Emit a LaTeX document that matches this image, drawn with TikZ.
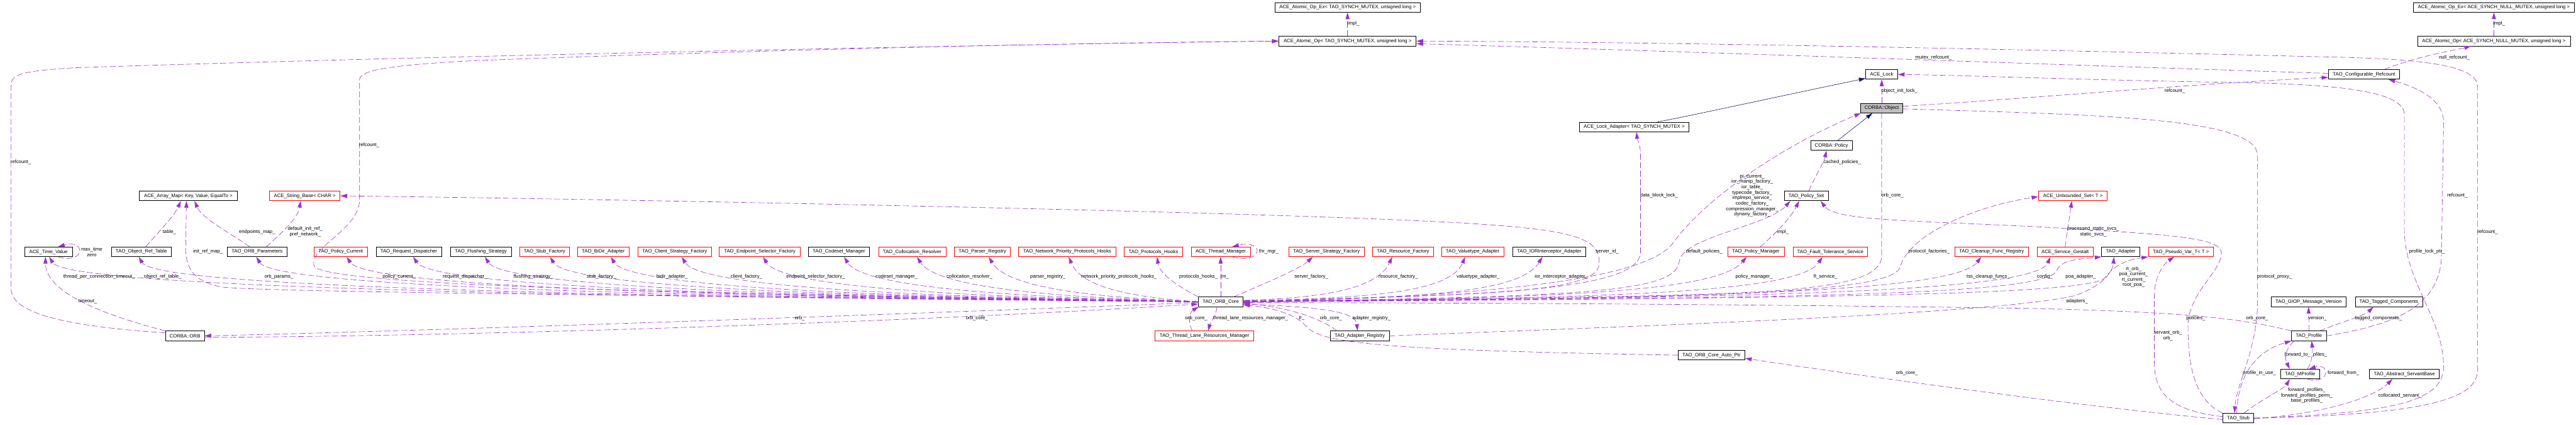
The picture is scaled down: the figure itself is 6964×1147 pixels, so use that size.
\documentclass[tikz,border=0pt]{standalone}
\usepackage{fontspec}
\setmainfont{Liberation Sans}
\usetikzlibrary{arrows.meta,calc}
\definecolor{depc}{HTML}{9A32CD}
\definecolor{inhc}{HTML}{191970}
\definecolor{gry}{HTML}{BFBFBF}
\newcommand{\dgfont}{\fontsize{18.8pt}{20.9pt}\selectfont}
\begin{document}
\begin{tikzpicture}[x=0.5mm,y=-0.5mm,
  box/.style={draw=black,fill=white,line width=1.8pt,minimum height=13mm,inner sep=0pt,font=\dgfont,anchor=center},
  rbox/.style={box,draw=red},
  bw/.style={minimum width=#1*0.5mm},
  dep/.style={draw=depc,line width=1.5pt,dash pattern=on 8mm off 3.5mm,-{Triangle[length=9mm,width=5.5mm]}},
  inh/.style={draw=inhc,line width=1.5pt,-{Triangle[length=9mm,width=5.5mm]}},
  lab/.style={font=\dgfont,inner sep=0pt,align=center}]
\useasboundingbox[fill=white] (0,0) rectangle (6964,1147);

% ---------------- nodes ----------------
\node[box,bw=393] (opex1) at (3643,20) {ACE\_Atomic\_Op\_Ex< TAO\_SYNCH\_MUTEX, unsigned long >};
\node[box,bw=371] (op1) at (3643,111) {ACE\_Atomic\_Op< TAO\_SYNCH\_MUTEX, unsigned long >};
\node[box,bw=435] (opex2) at (6742,20) {ACE\_Atomic\_Op\_Ex< ACE\_SYNCH\_NULL\_MUTEX, unsigned long >};
\node[box,bw=413] (op2) at (6742,111) {ACE\_Atomic\_Op< ACE\_SYNCH\_NULL\_MUTEX, unsigned long >};
\node[box,bw=86] (lock) at (5087,201) {ACE\_Lock};
\node[box,bw=192] (cref) at (6391,201) {TAO\_Configurable\_Refcount};
\node[box,bw=115,fill=gry] (obj) at (5087,292) {CORBA::Object};
\node[box,bw=295] (lockad) at (4418,343) {ACE\_Lock\_Adapter< TAO\_SYNCH\_MUTEX >};
\node[box,bw=112] (policy) at (4951,393) {CORBA::Policy};
\node[box,bw=119] (pset) at (4883,529) {TAO\_Policy\_Set};
\node[rbox,bw=186] (uset) at (5604,529) {ACE\_Unbounded\_Set< T >};
\node[box,bw=264] (amap) at (509,529) {ACE\_Array\_Map< Key, Value, EqualTo >};
\node[rbox,bw=191] (sbase) at (824,529) {ACE\_String\_Base< CHAR >};

\node[box,bw=129] (tv) at (131,680) {ACE\_Time\_Value};
\node[box,bw=162] (ort) at (382,680) {TAO\_Object\_Ref\_Table};
\node[box,bw=161] (op) at (695,680) {TAO\_ORB\_Parameters};
\node[rbox,bw=144] (pcur) at (921,680) {TAO\_Policy\_Current};
\node[box,bw=177] (rdisp) at (1105,680) {TAO\_Request\_Dispatcher};
\node[box,bw=165] (flush) at (1300,680) {TAO\_Flushing\_Strategy};
\node[rbox,bw=135] (stubf) at (1472,680) {TAO\_Stub\_Factory};
\node[rbox,bw=139] (bidir) at (1631,680) {TAO\_BiDir\_Adapter};
\node[rbox,bw=199] (csf) at (1824,680) {TAO\_Client\_Strategy\_Factory};
\node[rbox,bw=219] (esf) at (2054,680) {TAO\_Endpoint\_Selector\_Factory};
\node[box,bw=166] (csm) at (2268,680) {TAO\_Codeset\_Manager};
\node[rbox,bw=182] (colr) at (2466,680) {TAO\_Collocation\_Resolver};
\node[rbox,bw=151] (preg) at (2656,680) {TAO\_Parser\_Registry};
\node[rbox,bw=263] (npph) at (2885,680) {TAO\_Network\_Priority\_Protocols\_Hooks};
\node[rbox,bw=157] (ph) at (3118,680) {TAO\_Protocols\_Hooks};
\node[rbox,bw=160] (thrm) at (3300,680) {ACE\_Thread\_Manager};
\node[rbox,bw=204] (ssf) at (3586,680) {TAO\_Server\_Strategy\_Factory};
\node[rbox,bw=165] (rf) at (3793,680) {TAO\_Resource\_Factory};
\node[rbox,bw=168] (vta) at (3981,680) {TAO\_Valuetype\_Adapter};
\node[box,bw=197] (iora) at (4188,680) {TAO\_IORInterceptor\_Adapter};
\node[rbox,bw=153] (pman) at (4747,680) {TAO\_Policy\_Manager};
\node[rbox,bw=202] (fts) at (4948,680) {TAO\_Fault\_Tolerance\_Service};
\node[rbox,bw=198] (cfr) at (5384,680) {TAO\_Cleanup\_Func\_Registry};
\node[rbox,bw=152] (sg) at (5583,680) {ACE\_Service\_Gestalt};
\node[box,bw=103] (adp) at (5733,680) {TAO\_Adapter};
\node[rbox,bw=176] (pv) at (5896,680) {TAO\_Pseudo\_Var\_T< T >};

\node[box,bw=121] (core) at (3300,815) {TAO\_ORB\_Core};
\node[box,bw=203] (giop) at (6241,815) {TAO\_GIOP\_Message\_Version};
\node[box,bw=182] (tagc) at (6458,815) {TAO\_Tagged\_Components};

\node[box,bw=105] (orb) at (500,907) {CORBA::ORB};
\node[rbox,bw=266] (tlrm) at (3256,907) {TAO\_Thread\_Lane\_Resources\_Manager};
\node[box,bw=159] (areg) at (3676,907) {TAO\_Adapter\_Registry};
\node[box,bw=94] (prof) at (6242,907) {TAO\_Profile};
\node[box,bw=180] (autop) at (4627,959) {TAO\_ORB\_Core\_Auto\_Ptr};
\node[box,bw=106] (mprof) at (6218,1010) {TAO\_MProfile};
\node[box,bw=189] (asb) at (6500,1010) {TAO\_Abstract\_ServantBase};
\node[box,bw=84] (stub) at (6051,1129) {TAO\_Stub};

% ---------------- top area edges ----------------
\draw[dep] (op1.north) -- (opex1.south);
\draw[dep] (op2.north) -- (opex2.south);
\draw[inh] ([xshift=31mm]lockad.north) .. controls (4560,315) and (4800,262) .. ([yshift=1.5mm]lock.south west);
\draw[inh] ([xshift=8.5mm]policy.north) -- ([xshift=-12.5mm]obj.south);
\draw[dep] (obj.north) -- (lock.south);
\draw[dep] ([xshift=3.5mm]pset.north) .. controls (4910,470) and (4930,440) .. ([xshift=-6.5mm]policy.south);
\draw[dep] ([yshift=1.5mm]cref.west) .. controls (5800,183) and (4600,140) .. ([yshift=-3.5mm]op1.east);
\draw[dep] (stub.east) .. controls (6500,1120) and (6698,1090) .. (6698,1000) -- (6698,235) .. controls (6698,185) and (6600,160) .. (6300,154) .. controls (5500,134) and (4500,113) .. (op1.east);
\draw[dep] ([xshift=27.5mm]cref.north) .. controls (6540,150) and (6640,135) .. ([xshift=-31mm]op2.south);
\draw[dep] ([yshift=2.5mm]obj.east) .. controls (5500,265) and (5900,228) .. ([yshift=-4mm]cref.west);
\draw[dep] ([yshift=-1mm]obj.east) .. controls (5700,310) and (6103,320) .. (6103,420) -- (6103,820) .. controls (6100,950) and (6045,1040) .. ([xshift=-5mm]stub.north);
\draw[dep] (obj.south) -- (5087,690) .. controls (5087,770) and (4900,790) .. (4400,800) .. controls (3800,810) and (3500,812) .. ([yshift=-0.5mm]core.east);
\draw[dep] (stub.east) .. controls (6450,1115) and (6606,1090) .. (6606,990) .. controls (6606,860) and (6500,760) .. (6500,620) -- (6500,310) .. controls (6500,250) and (6350,226) .. (6000,222) .. controls (5600,215) and (5300,203) .. (lock.east);
\draw[dep] (prof.east) .. controls (6450,880) and (6590,840) .. (6600,700) -- (6606,330) .. controls (6606,262) and (6520,232) .. ([xshift=33mm]cref.south);

% ---------------- TAO_Stub / TAO_Profile edges ----------------
\draw[dep] (stub.north west) .. controls (5930,1080) and (5915,980) .. (5915,880) .. controls (5915,790) and (6010,730) .. (6005,680) .. controls (6000,640) and (5850,632) .. (5500,612) .. controls (5150,595) and (4960,595) .. ([xshift=19.5mm]pset.south);
\draw[dep] ([yshift=2mm]stub.west) .. controls (5880,1110) and (5824,1070) .. (5824,980) -- (5824,800) .. controls (5824,745) and (5850,712) .. ([xshift=-9mm]pv.south);
\draw[dep] ([yshift=-2mm]stub.west) .. controls (5600,1095) and (5000,1010) .. ([yshift=2.5mm]autop.south east);
\draw[dep] ([xshift=-2mm]stub.north) .. controls (6050,1000) and (6110,945) .. (prof.south west);
\draw[dep] ([xshift=8mm]stub.north) .. controls (6110,1080) and (6175,1050) .. ([xshift=-14mm]mprof.south);
\draw[dep] ([yshift=-1mm]stub.east) .. controls (6300,1115) and (6420,1070) .. ([xshift=-16mm]asb.south);
\draw[dep] ([xshift=-20mm]prof.south) .. controls (6170,950) and (6180,975) .. ([xshift=-14mm]mprof.north);
\draw[dep] ([xshift=10mm]mprof.north) .. controls (6252,975) and (6252,945) .. ([xshift=3.5mm]prof.south);
\draw[dep] ([xshift=10mm]mprof.south) .. controls (6300,1040) and (6300,978) .. ([xshift=12mm]mprof.north);
\draw[dep] (prof.north) -- (giop.south);
\draw[dep] ([xshift=14.5mm]prof.north) .. controls (6330,870) and (6395,850) .. ([xshift=-21mm]tagc.south);
\draw[dep] (prof.north west) .. controls (6050,858) and (5900,843) .. (5500,833) .. controls (4500,818) and (3700,818) .. ([yshift=-1mm]core.east);

% ---------------- TAO_ORB_Core right side ----------------
\draw[dep] ([yshift=-3mm]core.east) .. controls (3600,830) and (3665,845) .. ([xshift=-3mm]areg.north);
\draw[dep] ([xshift=-31mm]areg.north) .. controls (3580,865) and (3490,830) .. ([yshift=-2mm]core.east);
\draw[dep] (autop.west) .. controls (3700,945) and (3570,925) .. (3530,880) .. controls (3500,845) and (3430,830) .. ([yshift=-4mm]core.east);
\draw[dep] ([xshift=-5mm]core.south) .. controls (3288,850) and (3272,870) .. ([xshift=5mm]tlrm.north);
\draw[dep] ([xshift=-16.5mm]tlrm.north) .. controls (3208,862) and (3220,840) .. ([xshift=1mm]core.south west);
\draw[dep] (core.north) -- (thrm.south);
\draw[dep] ([xshift=15.5mm]thrm.south) .. controls (3418,715) and (3418,645) .. ([xshift=15.5mm]thrm.north);
\draw[dep] (core.north west) .. controls (3180,770) and (3135,740) .. ([xshift=5mm]ph.south);
\draw[dep] ([xshift=17.5mm]core.north) .. controls (3420,765) and (3515,725) .. ([xshift=-18.5mm]ssf.south);
\draw[dep] ([yshift=2mm]core.east) .. controls (3560,805) and (3720,785) .. ([xshift=-14.5mm]rf.south);
\draw[dep] ([yshift=1.5mm]core.east) .. controls (3700,805) and (3920,790) .. ([xshift=-10mm]vta.south);
\draw[dep] ([yshift=1mm]core.east) .. controls (3850,805) and (4110,790) .. ([xshift=-9mm]iora.south);
\draw[dep] ([yshift=0.5mm]core.east) .. controls (3900,795) and (4300,800) .. (4322,720) .. controls (4335,640) and (4250,620) .. (3950,602) .. controls (3400,570) and (1500,535) .. (sbase.east);
\draw[dep] (core.east) .. controls (4000,795) and (4435,790) .. (4435,680) -- (4435,420) .. controls (4435,390) and (4426,375) .. ([xshift=3mm]lockad.south);
\draw[dep] (core.east) .. controls (4100,800) and (4450,745) .. (4520,660) .. controls (4620,520) and (4850,380) .. ([xshift=1mm]obj.south west);
\draw[dep] (core.east) .. controls (4300,800) and (4530,790) .. (4540,705) .. controls (4550,640) and (4780,610) .. ([xshift=-21.5mm]pset.south);
\draw[dep] (core.east) .. controls (4200,805) and (4640,790) .. ([xshift=-12.5mm]pman.south);
\draw[dep] ([xshift=6mm]pman.north) .. controls (4800,630) and (4840,590) .. ([xshift=-9.5mm]pset.south);
\draw[dep] (core.east) .. controls (4300,805) and (4860,795) .. ([xshift=-10.5mm]fts.south);
\draw[dep] (core.east) .. controls (4500,805) and (5120,800) .. (5137,720) .. controls (5160,640) and (5320,560) .. ([yshift=-1mm]uset.west);
\draw[dep] (core.east) .. controls (4500,805) and (5280,795) .. ([xshift=-14mm]cfr.south);
\draw[dep] (core.east) .. controls (4600,805) and (5500,795) .. ([xshift=-20mm]sg.south);
\draw[dep] (core.east) .. controls (4800,805) and (5540,800) .. (5560,730) .. controls (5575,700) and (5620,700) .. (adp.south west);
\draw[dep] (core.east) .. controls (4800,805) and (5650,800) .. (5690,750) .. controls (5720,710) and (5760,700) .. (pv.south west);
\draw[dep] (sg.north) -- ([xshift=-1.5mm]uset.south);
\draw[dep] (areg.east) .. controls (4300,885) and (5400,850) .. (5610,798) .. controls (5690,770) and (5712,730) .. ([xshift=-9mm]adp.south);

% ---------------- TAO_ORB_Core left side ----------------
\draw[dep] (core.west) .. controls (2152,805) and (190,790) .. ([xshift=1mm]tv.south);
\draw[dep] (core.west) .. controls (2237,805) and (430,790) .. ([xshift=-3.5mm]ort.south);
\draw[dep] (core.west) .. controls (2349,805) and (750,790) .. ([xshift=-1mm]op.south);
\draw[dep] (core.west) .. controls (2434,805) and (1000,790) .. ([xshift=8mm]pcur.south);
\draw[dep] (core.west) .. controls (2497,805) and (1180,790) .. ([xshift=6mm]rdisp.south);
\draw[dep] (core.west) .. controls (2565,805) and (1370,790) .. ([xshift=5.5mm]flush.south);
\draw[dep] (core.west) .. controls (2626,805) and (1545,790) .. ([xshift=7.5mm]stubf.south);
\draw[dep] (core.west) .. controls (2684,805) and (1710,790) .. ([xshift=10mm]bidir.south);
\draw[dep] (core.west) .. controls (2751,805) and (1900,790) .. ([xshift=9.5mm]csf.south);
\draw[dep] (core.west) .. controls (2828,805) and (2120,790) .. ([xshift=4.5mm]esf.south);
\draw[dep] (core.west) .. controls (2905,805) and (2340,790) .. ([xshift=7mm]csm.south);
\draw[dep] (core.west) .. controls (2974,805) and (2540,790) .. ([xshift=6.5mm]colr.south);
\draw[dep] (core.west) .. controls (3041,805) and (2730,790) .. ([xshift=8.5mm]preg.south);
\draw[dep] (core.west) .. controls (3117,805) and (2930,790) .. ([xshift=2mm]npph.south);
\draw[dep] (core.west) .. controls (2000,800) and (720,790) .. (600,775) .. controls (520,760) and (502,720) .. (502,670) -- ([xshift=-2.5mm]amap.south);
\draw[dep] (core.west) .. controls (2000,795) and (900,775) .. (850,720) .. controls (830,670) and (972,620) .. (972,540) -- (972,215) .. controls (972,190) and (1050,175) .. (1300,163) .. controls (2200,130) and (3000,115) .. (op1.west);
\draw[dep] ([yshift=-1mm]core.west) .. controls (2400,850) and (1100,895) .. (orb.east);
\draw[dep] ([yshift=-2mm]orb.east) .. controls (1300,908) and (2500,868) .. ([yshift=-3mm]core.west);

% ---------------- far left ----------------
\draw[dep] ([xshift=13mm]tv.south) .. controls (232,715) and (232,645) .. ([xshift=13mm]tv.north);
\draw[dep] (orb.north west) .. controls (280,850) and (123,790) .. ([xshift=-4mm]tv.south);
\draw[dep] ([yshift=4mm]orb.west) .. controls (250,885) and (30,860) .. (30,780) -- (30,230) .. controls (30,200) and (60,192) .. (200,183) .. controls (1200,150) and (2800,118) .. (op1.west);
\draw[dep] ([xshift=6mm]ort.north) .. controls (425,630) and (470,585) .. ([xshift=-10mm]amap.south);
\draw[dep] ([xshift=-10mm]op.north) .. controls (640,640) and (545,590) .. ([xshift=8.5mm]amap.south);
\draw[dep] ([xshift=12.5mm]op.north) .. controls (760,630) and (805,590) .. ([xshift=-5.5mm]sbase.south);

% ---------------- labels ----------------
\node[lab] (l1) at (3659,64) {impl\_};
\node[lab] (l2) at (6756,64) {impl\_};
\node[lab] (l3) at (5227,155) {mutex\_refcount\_};
\node[lab] (l4) at (6635,155) {null\_refcount\_};
\node[lab] (l5) at (5135,246) {object\_init\_lock\_};
\node[lab] (l6) at (5879,246) {refcount\_};
\node[lab] (l7) at (56,438) {refcount\_};
\node[lab] (l8) at (998,392) {refcount\_};
\node[lab] (l9) at (4980,438) {cached\_policies\_};
\node[lab] (l10) at (4485,528) {data\_block\_lock\_};
\node[lab] (l11) at (4737,528) {pi\_current\_\\ior\_manip\_factory\_\\ior\_table\_\\typecode\_factory\_\\implrepo\_service\_\\codec\_factory\_\\compression\_manager\_\\dynany\_factory\_};
\node[lab] (l12) at (5116,528) {orb\_core\_};
\node[lab] (l13) at (6149,747) {protocol\_proxy\_};
\node[lab] (l14) at (6725,626) {refcount\_};
\node[lab] (l15) at (6561,679) {profile\_lock\_ptr\_};
\node[lab] (l16) at (6643,528) {refcount\_};
\node[lab] (l17) at (458,626) {table\_};
\node[lab] (l18) at (695,626) {endpoints\_map\_};
\node[lab] (l19) at (825,626) {default\_init\_ref\_\\pref\_network\_};
\node[lab] (l20) at (562,679) {init\_ref\_map\_};
\node[lab] (l21) at (248,680) {max\_time\\zero};
\node[lab] (l22) at (268,747) {thread\_per\_connection\_timeout\_};
\node[lab] (l23) at (440,747) {object\_ref\_table\_};
\node[lab] (l24) at (754,747) {orb\_params\_};
\node[lab] (l25) at (1079,747) {policy\_current\_};
\node[lab] (l26) at (1257,747) {request\_dispatcher\_};
\node[lab] (l27) at (1442,747) {flushing\_strategy\_};
\node[lab] (l28) at (1626,747) {stub\_factory\_};
\node[lab] (l29) at (1817,747) {bidir\_adapter\_};
\node[lab] (l30) at (2018,747) {client\_factory\_};
\node[lab] (l31) at (2205,747) {endpoint\_selector\_factory\_};
\node[lab] (l32) at (2424,747) {codeset\_manager\_};
\node[lab] (l33) at (2621,747) {collocation\_resolver\_};
\node[lab] (l34) at (2833,747) {parser\_registry\_};
\node[lab] (l35) at (3025,747) {network\_priority\_protocols\_hooks\_};
\node[lab] (l36) at (3240,747) {protocols\_hooks\_};
\node[lab] (l37) at (3311,747) {tm\_};
\node[lab] (l38) at (3430,680) {thr\_mgr\_};
\node[lab] (l39) at (3545,747) {server\_factory\_};
\node[lab] (l40) at (3780,747) {resource\_factory\_};
\node[lab] (l41) at (3996,747) {valuetype\_adapter\_};
\node[lab] (l42) at (4221,747) {ior\_interceptor\_adapter\_};
\node[lab] (l43) at (4345,679) {server\_id\_};
\node[lab] (l44) at (4607,679) {default\_policies\_};
\node[lab] (l45) at (4742,747) {policy\_manager\_};
\node[lab] (l46) at (4820,626) {impl\_};
\node[lab] (l47) at (4935,747) {ft\_service\_};
\node[lab] (l48) at (5215,679) {protocol\_factories\_};
\node[lab] (l49) at (5375,747) {tss\_cleanup\_funcs\_};
\node[lab] (l50) at (5528,747) {config\_};
\node[lab] (l51) at (5625,747) {poa\_adapter\_};
\node[lab] (l52) at (5659,626) {processed\_static\_svcs\_\\static\_svcs\_};
\node[lab] (l53) at (5768,748) {rt\_orb\_\\poa\_current\_\\rt\_current\_\\root\_poa\_};
\node[lab] (l54) at (5615,814) {adapters\_};
\node[lab] (l55) at (2162,859) {orb\_};
\node[lab] (l56) at (2641,859) {orb\_core\_};
\node[lab] (l57) at (3234,859) {orb\_core\_};
\node[lab] (l58) at (3381,859) {thread\_lane\_resources\_manager\_};
\node[lab] (l59) at (3519,859) {p\_};
\node[lab] (l60) at (3598,859) {orb\_core\_};
\node[lab] (l61) at (3708,859) {adapter\_registry\_};
\node[lab] (l62) at (237,814) {timeout\_};
\node[lab] (l63) at (6102,859) {orb\_core\_};
\node[lab] (l64) at (5936,859) {policies\_};
\node[lab] (l65) at (6265,859) {version\_};
\node[lab] (l66) at (6430,859) {tagged\_components\_};
\node[lab] (l67) at (5861,906) {servant\_orb\_\\orb\_};
\node[lab] (l68) at (6211,958) {forward\_to\_};
\node[lab] (l69) at (6272,958) {pfiles\_};
\node[lab] (l70) at (6335,1008) {forward\_from\_};
\node[lab] (l71) at (6108,1008) {profile\_in\_use\_};
\node[lab] (l72) at (6236,1068) {forward\_profiles\_\\forward\_profiles\_perm\_\\base\_profiles\_};
\node[lab] (l73) at (6488,1068) {collocated\_servant\_};
\node[lab] (l74) at (5155,1008) {orb\_core\_};
\end{tikzpicture}
\end{document}
